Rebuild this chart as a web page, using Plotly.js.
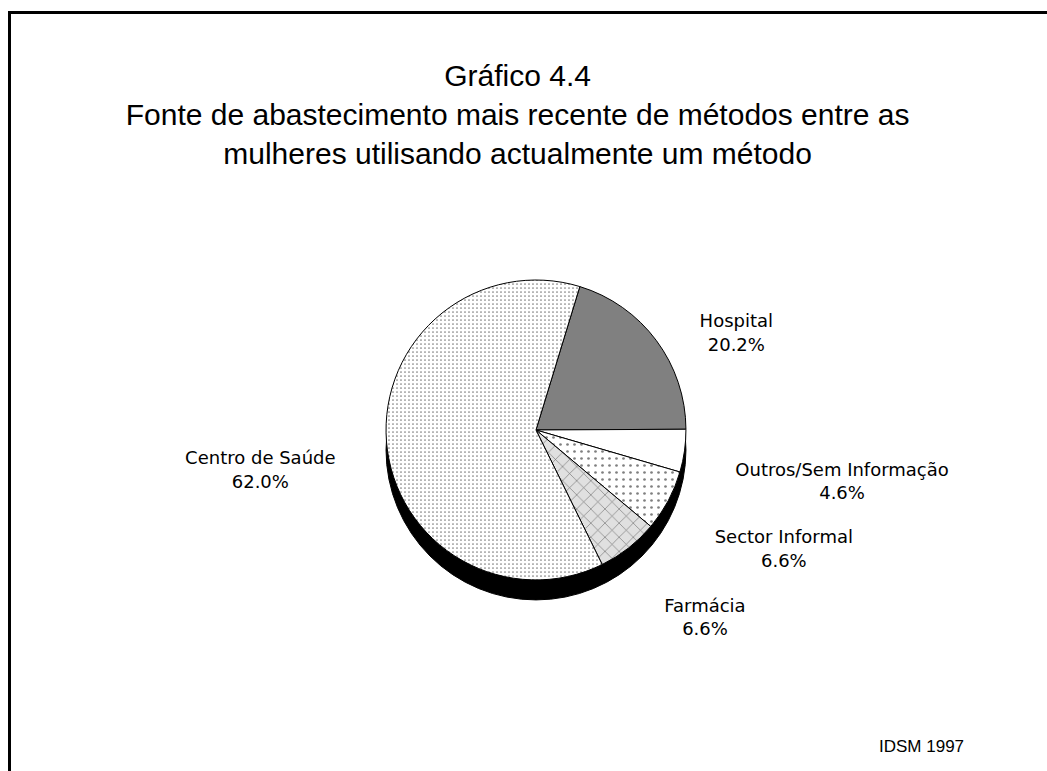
<!DOCTYPE html>
<html>
<head>
<meta charset="utf-8">
<script src="https://cdn.plot.ly/plotly-3.0.1.min.js"></script>
<style>
  body { margin: 0; background: #fff; }
  #frame { position: absolute; left: 8px; top: 11px; border-left: 3px solid #000; border-top: 3px solid #000; }
  #chart { width: 1036px; height: 757px; }
</style>
</head>
<body>
<div id="frame"><div id="chart"></div></div>
<script>
// slices in clockwise order, starting at the Hospital/Centro boundary
var labels = ["Hospital", "Outros/Sem Informação", "Sector Informal", "Farmácia", "Centro de Saúde"];
var values = [20.2, 4.6, 6.6, 6.6, 62.0];

var fills = ["#808080", "#ffffff", "#ffffff", "#e0e0e0", "#ffffff"];
var shapes = ["", "", ".", "x", "."];
var sizes = [8, 8, 7, 10, 4];
var solid = [0.2, 0.2, 0.12, 0.12, 0.15];

var mainDomain = { x: [0.3620, 0.6515], y: [0.2523, 0.6487] };
var shadowDomain = { x: [0.3620, 0.6515], y: [0.2259, 0.6223] };
var labelDomain = { x: [0.3234, 0.6902], y: [0.1678, 0.6698] };

// black pie underneath gives the 3d edge
var shadow = {
	type: 'pie',
	values: [1],
	labels: ['shadow'],
	domain: shadowDomain,
	marker: { colors: ['#000000'], line: { color: '#000', width: 1 } },
	textinfo: 'none',
	hoverinfo: 'skip',
	showlegend: false
};

var pie = {
	type: 'pie',
	values: values,
	labels: labels,
	sort: false,
	direction: 'clockwise',
	rotation: 17,
	domain: mainDomain,
	marker: {
		colors: fills,
		line: { color: '#000', width: 1 },
		pattern: { shape: shapes, size: sizes, solidity: solid, fgcolor: '#000', bgcolor: fills, fillmode: 'overlay' }
	},
	textinfo: 'none',
	showlegend: false
};

// same slices, bigger and see-through, only to put the labels further out
var pieLabels = {
	type: 'pie',
	values: values,
	labels: labels,
	sort: false,
	direction: 'clockwise',
	rotation: 17,
	domain: labelDomain,
	marker: { colors: ['rgba(0,0,0,0)', 'rgba(0,0,0,0)', 'rgba(0,0,0,0)', 'rgba(0,0,0,0)', 'rgba(0,0,0,0)'], line: { width: 0 } },
	texttemplate: '%{label}<br>%{value:.1f}%',
	textposition: 'outside',
	outsidetextfont: { family: 'DejaVu Sans, sans-serif', size: 18, color: '#000' },
	showlegend: false
};

var layout = {
	width: 1036,
	height: 757,
	margin: { l: 0, r: 0, t: 0, b: 0 },
	paper_bgcolor: '#fff',
	title: {
		text: 'Gráfico 4.4<br>Fonte de abastecimento mais recente de métodos entre as<br>mulheres utilisando actualmente um método',
		font: { family: 'Liberation Sans, Arial, sans-serif', size: 30, color: '#000' },
		x: 0.489, xanchor: 'center',
		y: 0.905, yref: 'container', yanchor: 'top'
	},
	annotations: [{
		text: 'IDSM 1997', xref: 'paper', yref: 'paper', x: 0.879, y: 0.032,
		xanchor: 'center', yanchor: 'middle',
		showarrow: false, font: { family: 'Liberation Sans, Arial, sans-serif', size: 17, color: '#000' }
	}]
};

Plotly.newPlot('chart', [shadow, pie, pieLabels], layout, { staticPlot: true });
</script>
</body>
</html>
